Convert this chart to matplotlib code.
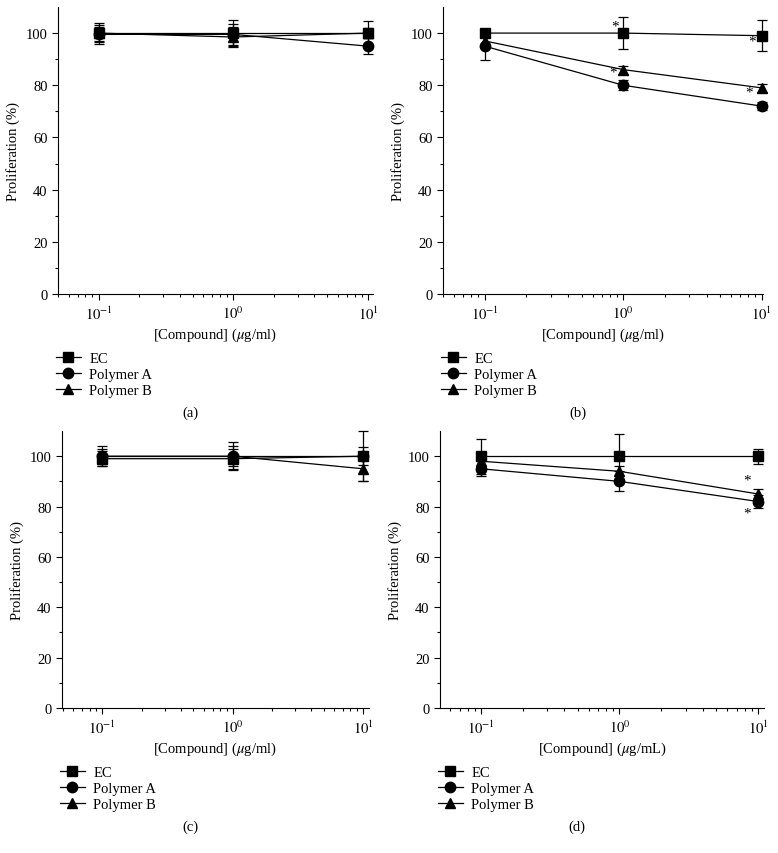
import matplotlib.pyplot as plt
from matplotlib.lines import Line2D

# concentrations (ug/ml)
conc = [0.1, 1, 10]

# panel (a)
a_ec = [100, 100, 100]
a_ec_err = [4, 5, 4.5]
a_pa = [99.5, 99.5, 95]
a_pa_err = [3, 4, 3]
a_pb = [100, 98.5, 100]
a_pb_err = [3, 4, 2]

# panel (b)
b_ec = [100, 100, 99]
b_ec_err = [1, 6, 6]
b_pa = [95, 80, 72]
b_pa_err = [5.5, 2, 1.5]
b_pb = [97, 86, 79]
b_pb_err = [2, 1.5, 1.5]

# panel (c)
c_ec = [99, 99, 100]
c_ec_err = [3, 4, 10]
c_pa = [100, 100, 100]
c_pa_err = [4, 5.5, 3.5]
c_pb = [100, 100, 95]
c_pb_err = [3, 4, 5]

# panel (d)
d_ec = [100, 100, 100]
d_ec_err = [7, 9, 3]
d_pa = [95, 90, 82]
d_pa_err = [3, 4, 2.5]
d_pb = [98, 94, 85]
d_pb_err = [2, 2, 2]

series_names = ["EC", "Polymer A", "Polymer B"]
markers = ["s", "o", "^"]
panel_labels = ["(a)", "(b)", "(c)", "(d)"]
xlabels = [r"[Compound] ($\mu$g/ml)", r"[Compound] ($\mu$g/ml)",
           r"[Compound] ($\mu$g/ml)", r"[Compound] ($\mu$g/mL)"]

# significance stars: (series index, point index, x offset pt, y offset pt)
b_stars = [(0, 1, -6, 5), (2, 1, -7, -2), (0, 2, -7, -4), (2, 2, -9, -3)]
d_stars = [(2, 2, -8, 10), (1, 2, -8, -8)]

plt.rcParams['font.family'] = ['Liberation Serif', 'DejaVu Serif']
plt.rcParams['mathtext.fontset'] = 'stix'
plt.rcParams['font.size'] = 10.5

W, H = 778, 854
fig = plt.figure(figsize=(W / 100, H / 100), dpi=100)

# axes boxes in pixels: left, right, top, bottom
boxes = [(58, 373, 8, 295), (443, 763, 8, 295), (62, 369, 432, 709), (440, 764, 432, 709)]
xlims = [(0.05, 10.9), (0.05, 10.2), (0.049, 11.1), (0.0506, 11.05)]

panels = [
    [(a_ec, a_ec_err), (a_pa, a_pa_err), (a_pb, a_pb_err)],
    [(b_ec, b_ec_err), (b_pa, b_pa_err), (b_pb, b_pb_err)],
    [(c_ec, c_ec_err), (c_pa, c_pa_err), (c_pb, c_pb_err)],
    [(d_ec, d_ec_err), (d_pa, d_pa_err), (d_pb, d_pb_err)],
]
stars = [[], b_stars, [], d_stars]

for i, (l, r, t, b) in enumerate(boxes):
    ax = fig.add_axes([l / W, 1 - b / H, (r - l) / W, (b - t) / H])
    data = panels[i]
    for (vals, err), m in zip(data, markers):
        ax.errorbar(conc, vals, yerr=err, fmt="-" + m, color="black", ms=7.5,
                    lw=0.9, elinewidth=0.9, capsize=3.5, capthick=0.9, clip_on=False)
    for si, pi, dx, dy in stars[i]:
        ax.annotate("*", xy=(conc[pi], data[si][0][pi]), xytext=(dx, dy),
                    textcoords="offset points", ha="center", va="center", fontsize=11)

    ax.set_xscale("log")
    ax.set_xlim(*xlims[i])
    ax.set_ylim(0, 110)
    ax.set_yticks([0, 20, 40, 60, 80, 100])
    ax.set_yticks([10, 30, 50, 70, 90], minor=True)
    ax.set_xticks([0.1, 1, 10])
    ax.set_xticklabels([r"$10^{-1}$", r"$10^{0}$", r"$10^{1}$"])
    ax.spines["top"].set_visible(False)
    ax.spines["right"].set_visible(False)
    ax.tick_params(which="major", direction="out", length=4, width=0.8, labelsize=10.5)
    ax.tick_params(which="minor", direction="out", length=2.5, width=0.8)
    ax.set_ylabel("Proliferation (%)", fontsize=10.5, labelpad=4)
    ax.set_xlabel(xlabels[i], fontsize=10.5, labelpad=3)

    # legend below the axes
    handles = [Line2D([0], [0], color="black", marker=m, ms=7.5, lw=0.9) for m in markers]
    ax.legend(handles, series_names, loc="upper left",
              bbox_to_anchor=((l - 8) / W, 1 - (b + 52) / H), bbox_transform=fig.transFigure,
              frameon=False, handlelength=1.7, handletextpad=0.6, labelspacing=0.2,
              borderaxespad=0, fontsize=10.5)

    cx = (l + r) / 2 - 25
    fig.text(cx / W, 1 - (b + 118) / H, panel_labels[i], ha="center", va="center", fontsize=10.5)

fig.savefig("out.png", dpi=100)
